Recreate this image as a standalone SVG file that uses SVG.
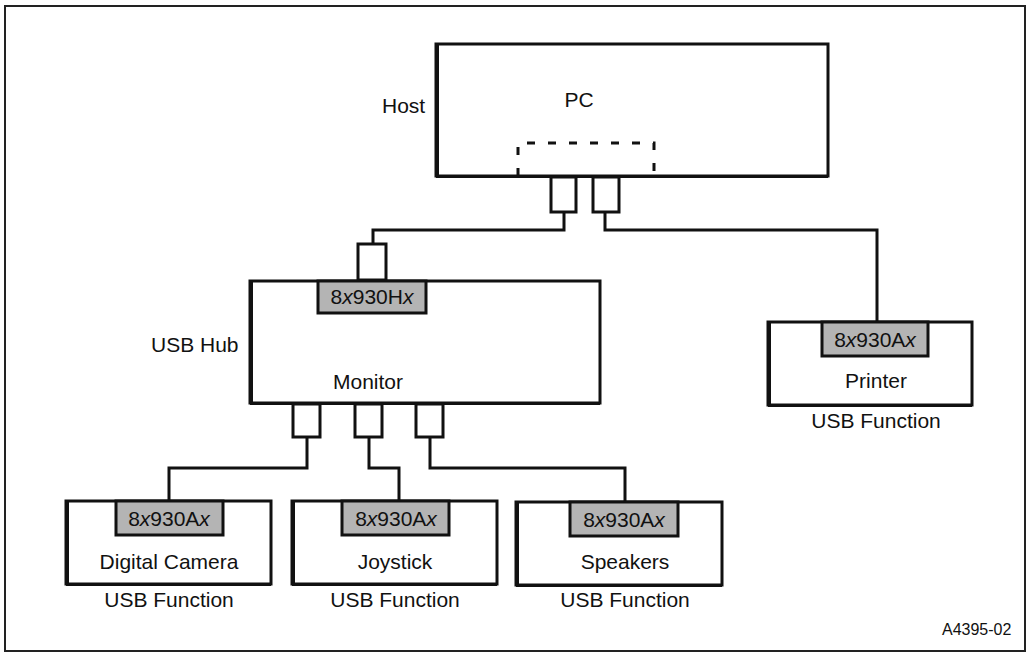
<svg xmlns="http://www.w3.org/2000/svg" width="1031" height="654" viewBox="0 0 1031 654">
<style>
text{font-family:"Liberation Sans",Arial,sans-serif;font-size:21px;fill:#111}
.c{text-anchor:middle}
.box{fill:#fff;stroke:#111;stroke-width:3}
.sh{stroke:#111;stroke-width:3;fill:none}
.chip{fill:#b4b4b4;stroke:#111;stroke-width:3}
.port{fill:#fff;stroke:#111;stroke-width:3}
.wire{fill:none;stroke:#111;stroke-width:3}
.dash{fill:none;stroke:#111;stroke-width:3;stroke-dasharray:8 13}
</style>
<rect x="0" y="0" width="1031" height="654" fill="#fff"/>
<rect x="5" y="6" width="1020" height="645" fill="none" stroke="#222" stroke-width="2"/>

<g id="connectors">
<polyline class="wire" points="564,212 564,230 373,230 373,244"/>
<polyline class="wire" points="605,212 605,230 877,230 877,322"/>
<polyline class="wire" points="307,437 307,468 169,468 169,501"/>
<polyline class="wire" points="369,437 369,468 399,468 399,501"/>
<polyline class="wire" points="430,437 430,468 625,468 625,501"/>
</g>

<g id="pc">
<rect class="box" x="436" y="44" width="392" height="132"/>
<path class="sh" d="M437.5,44 V176.5 H828" stroke-width="5" />
<path class="dash" d="M518,176 V143 H654 V176" stroke-dashoffset="0"/>
<rect class="port" x="551" y="177" width="25" height="35"/>
<rect class="port" x="593" y="177" width="26" height="35"/>
<text x="382" y="113">Host</text>
<text class="c" x="579" y="107">PC</text>
</g>

<g id="hub">
<rect class="port" x="358" y="244" width="28" height="36"/>
<rect class="box" x="250" y="281" width="350" height="122"/>
<path class="sh" d="M251.5,281 V403.5 H600" stroke-width="5"/>
<rect class="chip" x="318" y="281" width="108" height="32"/>
<rect class="port" x="293" y="404" width="27" height="33"/>
<rect class="port" x="355" y="404" width="27" height="33"/>
<rect class="port" x="416" y="404" width="27" height="33"/>
<text class="c" x="372" y="304">8<tspan font-style="italic">x</tspan>930H<tspan font-style="italic">x</tspan></text>
<text x="151" y="352">USB Hub</text>
<text class="c" x="368" y="389">Monitor</text>
</g>

<g id="printer">
<rect class="box" x="768" y="322" width="204" height="83"/>
<path class="sh" d="M769.5,322 V405.5 H972" stroke-width="5"/>
<rect class="chip" x="822" y="322" width="106" height="34"/>
<text class="c" x="875" y="347">8<tspan font-style="italic">x</tspan>930A<tspan font-style="italic">x</tspan></text>
<text class="c" x="876" y="388">Printer</text>
<text class="c" x="876" y="428">USB Function</text>
</g>

<g id="camera">
<rect class="box" x="66" y="501" width="205" height="83"/>
<path class="sh" d="M67.5,501 V584.5 H271" stroke-width="5"/>
<rect class="chip" x="116" y="501" width="107" height="34"/>
<text class="c" x="169" y="526">8<tspan font-style="italic">x</tspan>930A<tspan font-style="italic">x</tspan></text>
<text class="c" x="169" y="569">Digital Camera</text>
<text class="c" x="169" y="607">USB Function</text>
</g>

<g id="joystick">
<rect class="box" x="292" y="501" width="205" height="83"/>
<path class="sh" d="M293.5,501 V584.5 H497" stroke-width="5"/>
<rect class="chip" x="342" y="501" width="107" height="34"/>
<text class="c" x="396" y="526">8<tspan font-style="italic">x</tspan>930A<tspan font-style="italic">x</tspan></text>
<text class="c" x="395" y="569">Joystick</text>
<text class="c" x="395" y="607">USB Function</text>
</g>

<g id="speakers">
<rect class="box" x="516" y="502" width="206" height="83"/>
<path class="sh" d="M517.5,502 V585.5 H722" stroke-width="5"/>
<rect class="chip" x="570" y="502" width="108" height="34"/>
<text class="c" x="624" y="527">8<tspan font-style="italic">x</tspan>930A<tspan font-style="italic">x</tspan></text>
<text class="c" x="625" y="569">Speakers</text>
<text class="c" x="625" y="607">USB Function</text>
</g>

<text x="942" y="635" style="font-size:16px">A4395-02</text>
</svg>
